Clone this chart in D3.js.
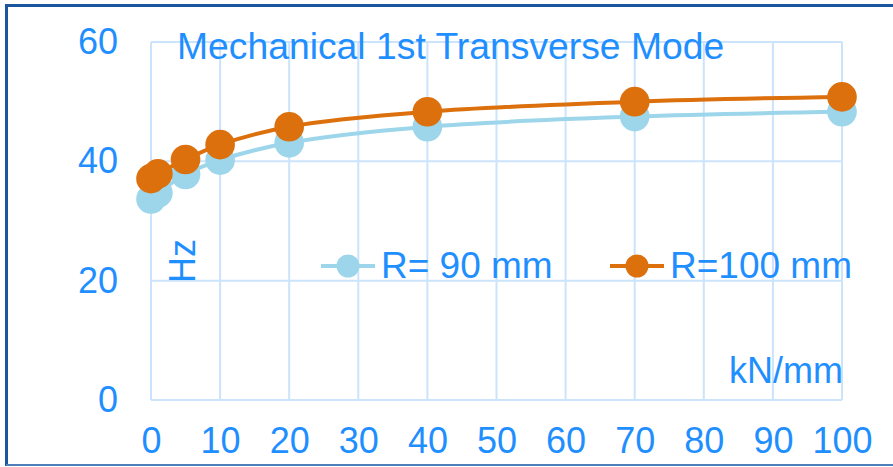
<!DOCTYPE html>
<html>
<head>
<meta charset="utf-8">
<script src="https://cdn.jsdelivr.net/npm/d3@7"></script>
<style>
  body { margin: 0; background: #fff; }
  svg { display: block; font-family: "Liberation Sans", Arial, sans-serif; }
</style>
</head>
<body>
<svg id="chart" width="893" height="467"></svg>
<script>
// stiffness (kN/mm) and frequency (Hz)
const stiffness = [0, 1, 5, 10, 20, 40, 70, 100];
const freqR90 = [33.7, 34.7, 37.8, 40.2, 43.1, 45.8, 47.5, 48.3];
const freqR100 = [37.1, 37.9, 40.3, 42.8, 45.8, 48.3, 50.0, 50.8];
const seriesNames = ["R= 90 mm", "R=100 mm"];
const xTicks = [0, 10, 20, 30, 40, 50, 60, 70, 80, 90, 100];
const yTicks = [0, 20, 40, 60];

const textColor = "#1f8fff",
  gridColor = "#cbe3fb",
  colors = ["#9dd6ea", "#dc700d"];

const svg = d3.select("#chart");

// frame
svg.append("path")
  .attr("d", "M6.5,466 V5.5 H893")
  .attr("fill", "none")
  .attr("stroke", "#1b559d")
  .attr("stroke-width", 3);
svg.append("line")
  .attr("x1", 6).attr("x2", 893).attr("y1", 465).attr("y2", 465)
  .attr("stroke", "#4f7fb8")
  .attr("stroke-width", 2);

const x = d3.scaleLinear().domain([0, 100]).range([151, 842]);
const y = d3.scaleLinear().domain([0, 60]).range([400, 42]);

// grid
svg.append("g").selectAll("line")
  .data(xTicks)
  .join("line")
  .attr("x1", d => x(d)).attr("x2", d => x(d))
  .attr("y1", y(0)).attr("y2", y(60))
  .attr("stroke", gridColor).attr("stroke-width", 2);
svg.append("g").selectAll("line")
  .data(yTicks)
  .join("line")
  .attr("x1", x(0)).attr("x2", x(100))
  .attr("y1", d => y(d)).attr("y2", d => y(d))
  .attr("stroke", gridColor).attr("stroke-width", 2);

// axes (labels only)
const xAxis = svg.append("g")
  .attr("transform", `translate(0,${y(0)})`)
  .call(d3.axisBottom(x).tickValues(xTicks).tickSize(0).tickPadding(30));
const yAxis = svg.append("g")
  .attr("transform", `translate(${x(0)},0)`)
  .call(d3.axisLeft(y).tickValues(yTicks).tickSize(0).tickPadding(33));
[xAxis, yAxis].forEach(a => {
  a.select(".domain").remove();
  a.selectAll("text")
    .attr("fill", textColor)
    .style("font-size", "36px")
    .style("font-family", "'Liberation Sans', Arial, sans-serif");
});
xAxis.selectAll("text").attr("dy", "0.71em").attr("y", 27);

// title + axis titles
svg.append("text")
  .attr("x", 177).attr("y", 59)
  .attr("fill", textColor)
  .style("font-size", "37.3px")
  .text("Mechanical 1st Transverse Mode");
svg.append("text")
  .attr("transform", "translate(195,283) rotate(-90)")
  .attr("fill", textColor)
  .style("font-size", "36px")
  .text("Hz");
svg.append("text")
  .attr("x", 843).attr("y", 383)
  .attr("text-anchor", "end")
  .attr("fill", textColor)
  .style("font-size", "36px")
  .text("kN/mm");

// series
const line = d3.line()
  .x(d => x(d[0]))
  .y(d => y(d[1]))
  .curve(d3.curveCatmullRom.alpha(0.5));

[freqR90, freqR100].forEach((vals, i) => {
  const pts = stiffness.map((s, j) => [s, vals[j]]);
  const g = svg.append("g");
  g.append("path")
    .attr("d", line(pts))
    .attr("fill", "none")
    .attr("stroke", colors[i])
    .attr("stroke-width", 4);
  g.selectAll("circle")
    .data(pts)
    .join("circle")
    .attr("cx", d => x(d[0]))
    .attr("cy", d => y(d[1]))
    .attr("r", 14.8)
    .attr("fill", colors[i]);
});

// legend
const legendX = [348, 637];
const legend = svg.append("g").selectAll("g")
  .data(seriesNames)
  .join("g")
  .attr("transform", (d, i) => `translate(${legendX[i]},266)`);
legend.append("line")
  .attr("x1", -27).attr("x2", 27)
  .attr("stroke", (d, i) => colors[i])
  .attr("stroke-width", 4);
legend.append("circle")
  .attr("r", 11.5)
  .attr("fill", (d, i) => colors[i]);
legend.append("text")
  .attr("x", 33).attr("y", 12)
  .attr("fill", textColor)
  .style("font-size", "37px")
  .text(d => d);
</script>
</body>
</html>
